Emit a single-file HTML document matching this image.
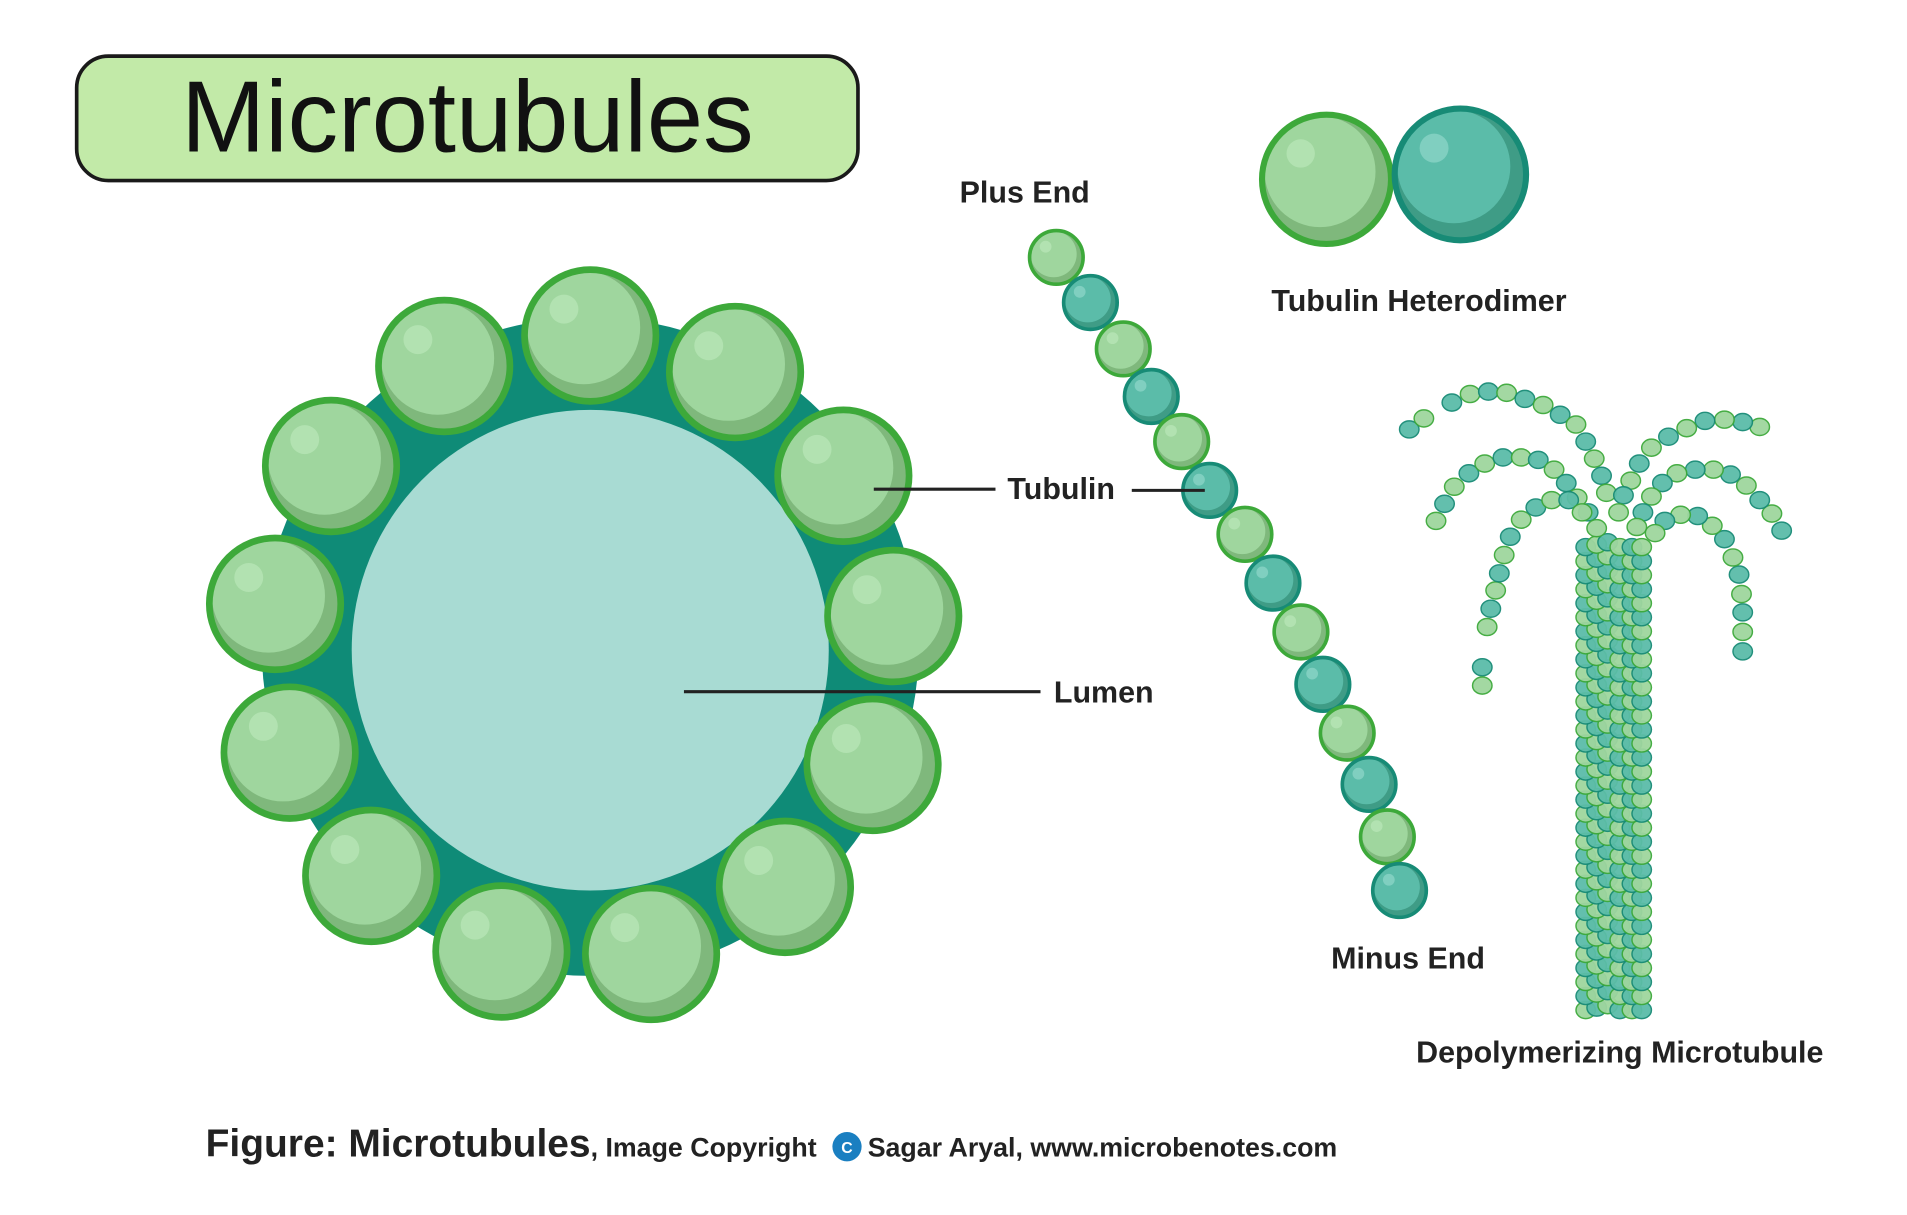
<!DOCTYPE html>
<html><head><meta charset="utf-8"><style>
html,body{margin:0;padding:0;background:#fff;}
svg{display:block;}
text{font-family:"Liberation Sans",sans-serif;fill:#222;}
</style></head><body>
<svg id="s" width="1907" height="1215" viewBox="0 0 1567 996" preserveAspectRatio="none" xmlns="http://www.w3.org/2000/svg">
<rect x="63" y="46" width="642" height="102" rx="26" fill="#c2eaa8" stroke="#1a1a1a" stroke-width="3"/>
<text x="384" y="124" font-size="83" text-anchor="middle" fill="#111" style="fill:#111">Microtubules</text>
<circle cx="485" cy="530" r="270" fill="#0f8b77"/>
<ellipse cx="485" cy="533" rx="196" ry="197" fill="#a8dbd3"/>
<g id="big"></g>
<g id="chain"></g>
<g id="dep"></g>
<line x1="718" y1="401" x2="818" y2="401" stroke="#222" stroke-width="2.5"/>
<line x1="930" y1="402" x2="990" y2="402" stroke="#222" stroke-width="2.5"/>
<line x1="562" y1="567" x2="855" y2="567" stroke="#222" stroke-width="2.5"/>
<g font-weight="bold" font-size="25">
<text x="842" y="166" text-anchor="middle">Plus End</text>
<text x="1166" y="255" text-anchor="middle">Tubulin Heterodimer</text>
<text x="872" y="409" text-anchor="middle">Tubulin</text>
<text x="866" y="576">Lumen</text>
<text x="1157" y="794" text-anchor="middle">Minus End</text>
<text x="1331" y="871" text-anchor="middle">Depolymerizing Microtubule</text>
</g>
<text x="169" y="948" font-weight="bold" font-size="32">Figure: Microtubules<tspan font-size="22">, Image Copyright</tspan></text>
<circle cx="696" cy="940" r="12" fill="#1a7fc1"/>
<text x="696" y="945" font-size="13" font-weight="bold" text-anchor="middle" style="fill:#fff">C</text>
<text x="713" y="948" font-weight="bold" font-size="22">Sagar Aryal, www.microbenotes.com</text>
</svg>
<script>
var NS="http://www.w3.org/2000/svg";
function el(p,t,a){var e=document.createElementNS(NS,t);for(var k in a)e.setAttribute(k,a[k]);p.appendChild(e);return e;}
var G={shade:"#7fb87c",main:"#9fd69e",hi:"#b2e2b1",st:"#3da93a"};
var T={shade:"#3f9c86",main:"#5bbca9",hi:"#80cfc0",st:"#178b76"};
function ball(p,x,y,r,c,sw){
 el(p,"circle",{cx:x,cy:y,r:r,fill:c.shade});
 el(p,"circle",{cx:x-r*0.1,cy:y-r*0.12,r:r*0.86,fill:c.main});
 el(p,"circle",{cx:x-r*0.4,cy:y-r*0.4,r:r*0.22,fill:c.hi});
 el(p,"circle",{cx:x,cy:y,r:r,fill:"none",stroke:c.st,"stroke-width":sw});
}
var big=document.getElementById("big");
[[485,275],[604,305],[693,390],[734,505],[717,627],[645,727],[535,782],[412,780],[305,718],[238,617],[226,495],[272,382],[365,300]].forEach(function(p){ball(big,p[0],p[1],54,G,5.5);});
ball(big,1090,147,53,G,5);ball(big,1200,143,54,T,5);
var ch=document.getElementById("chain");
[[868,211],[896,248],[923,286],[946,325],[971,362],[994,402],[1023,438],[1046,478],[1069,518],[1087,561],[1107,601],[1125,643],[1140,686],[1150,730]].forEach(function(p,i){ball(ch,p[0],p[1],22,i%2?T:G,3);});
var dep=document.getElementById("dep");
function sb(x,y,c){el(dep,"ellipse",{cx:x,cy:y,rx:8,ry:7,fill:c.main,stroke:c.st,"stroke-width":1.2,opacity:0.95});}
var cols=[1303,1312,1321,1331,1341,1349];
for(var y=828;y>=440;y-=11.5){for(var j=0;j<cols.length;j++){var k=(Math.round((828-y)/11.5)+j)%2;sb(cols[j],y+(j<3?-(j*2):0),k?T:G);}}
var arcs=[[[1158,352],[1170,343]],
[[1193,330],[1208,323],[1223,321],[1238,322],[1253,327],[1268,332],[1282,340],[1295,348],[1303,362],[1310,376],[1316,390],[1320,404]],
[[1446,350],[1432,346],[1417,344],[1401,345],[1386,351],[1371,358],[1357,367],[1347,380],[1340,394],[1334,406],[1330,420]],
[[1180,427],[1187,413],[1195,399],[1207,388],[1220,380],[1235,375],[1250,375],[1264,377],[1277,385],[1287,396],[1296,408],[1305,420],[1312,433]],
[[1464,435],[1456,421],[1446,410],[1435,398],[1422,389],[1408,385],[1393,385],[1378,388],[1366,396],[1357,407],[1350,420],[1345,432]],
[[1222,514],[1225,499],[1229,484],[1232,470],[1236,455],[1241,440],[1250,426],[1262,416],[1275,410],[1289,410],[1300,420]],
[[1218,547],[1218,562]],
[[1432,534],[1432,518],[1432,502],[1431,487],[1429,471],[1424,457],[1417,442],[1407,431],[1395,423],[1381,422],[1368,427],[1360,437]]];
arcs.forEach(function(a){a.forEach(function(p,i){sb(p[0],p[1],(a.length-i)%2?G:T);});});
</script>
</body></html>
